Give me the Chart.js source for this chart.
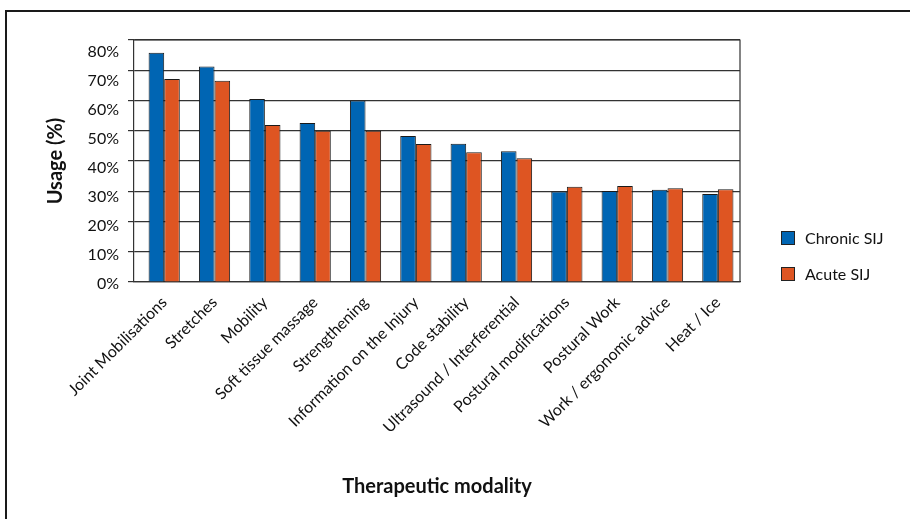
<!DOCTYPE html>
<html>
<head>
<meta charset="utf-8">
<script src="https://cdn.jsdelivr.net/npm/chart.js@4.4.1/dist/chart.umd.min.js"></script>
<style>
  html, body { margin: 0; padding: 0; background: #fff; }
  #wrap { position: relative; width: 910px; height: 519px; overflow: hidden; }
  #frame { position: absolute; left: 5px; top: 10px; width: 940px; height: 560px; border: 2px solid #1a1a1a; box-sizing: border-box; pointer-events: none; }
  canvas { position: absolute; left: 0; top: 0; }
</style>
</head>
<body>
<div id="wrap">
  <canvas id="c" width="910" height="519"></canvas>
  <div id="frame"></div>
</div>
<script>
const categories = [
  "Joint Mobilisations", "Stretches", "Mobility", "Soft tissue massage",
  "Strengthening", "Information on the Injury", "Code stability",
  "Ultrasound / Interferential", "Postural modifications", "Postural Work",
  "Work / ergonomic advice", "Heat / Ice"
];
const chronicSIJ = [75.8, 71.2, 60.5, 52.6, 60.0, 48.3, 45.7, 43.2, 29.9, 30.1, 30.5, 29.1];
const acuteSIJ   = [67.1, 66.5, 51.9, 50.0, 50.0, 45.6, 42.9, 40.9, 31.5, 31.7, 31.0, 30.7];
const seriesNames = ["Chronic SIJ", "Acute SIJ"];
const yTickValues = [0, 10, 20, 30, 40, 50, 60, 70, 80];
const yTickLabels = ["0%", "10%", "20%", "30%", "40%", "50%", "60%", "70%", "80%"];

const FONT = "Lato, 'Open Sans', sans-serif";

const toPoints = arr => arr.map((v, i) => ({ x: i, y: v }));

const frameAndLegend = {
  id: 'frameAndLegend',
  afterDatasetsDraw(chart) {
    const {ctx, chartArea} = chart;
    ctx.save();
    ctx.strokeStyle = '#333';
    ctx.lineWidth = 1.2;
    ctx.beginPath();
    ctx.moveTo(chartArea.left, chartArea.top);
    ctx.lineTo(chartArea.right, chartArea.top);
    ctx.lineTo(chartArea.right, chartArea.bottom);
    ctx.stroke();
    ctx.restore();
  },
  afterDraw(chart) {
    const {ctx} = chart;
    ctx.save();
    // y tick labels (in the reference they sit slightly lower than their gridlines)
    const yScale = chart.scales.y;
    ctx.fillStyle = '#111';
    ctx.font = "16px " + FONT;
    ctx.textAlign = 'right';
    ctx.textBaseline = 'middle';
    yTickValues.forEach((v, i) => {
      ctx.fillText(yTickLabels[i], yScale.right - 15, yScale.getPixelForValue(0.96 * v - 0.63));
    });
    // legend
    const x0 = 781, ys = [231, 267], sz = 14;
    chart.data.datasets.forEach((ds, i) => {
      ctx.fillStyle = ds.backgroundColor;
      ctx.fillRect(x0, ys[i], sz, sz);
      ctx.strokeStyle = '#222';
      ctx.lineWidth = 1;
      ctx.strokeRect(x0 + 0.5, ys[i] + 0.5, sz - 1, sz - 1);
      ctx.fillStyle = '#111';
      ctx.font = "16px " + FONT;
      ctx.textBaseline = 'middle';
      ctx.textAlign = 'left';
      ctx.fillText(ds.label, 805, ys[i] + sz / 2 + 1);
    });
    ctx.restore();
  }
};

new Chart(document.getElementById('c'), {
  type: 'bar',
  data: {
    datasets: [
      { label: seriesNames[0], data: toPoints(chronicSIJ), backgroundColor: '#0065B3', borderColor: '#1a1a1a', borderWidth: 1 },
      { label: seriesNames[1], data: toPoints(acuteSIJ), backgroundColor: '#DE5522', borderColor: '#1a1a1a', borderWidth: 1 }
    ]
  },
  options: {
    responsive: false,
    animation: false,
    devicePixelRatio: 1,
    layout: { padding: { left: 0, top: 40, right: 170, bottom: 0 } },
    plugins: { legend: { display: false }, tooltip: { enabled: false } },
    datasets: { bar: { barPercentage: 1.0, categoryPercentage: 0.62 } },
    scales: {
      x: {
        type: 'linear',
        min: -0.6, max: 11.44,
        offset: false,
        afterFit(scale) { scale.height = 237; },
        afterBuildTicks(scale) { scale.ticks = categories.map((c, i) => ({ value: i })); },
        grid: { display: false },
        border: { display: true, color: '#333', width: 1.2 },
        ticks: {
          autoSkip: false, minRotation: 45, maxRotation: 45,
          color: '#111', font: { family: FONT, size: 16 }, padding: 3,
          callback: v => categories[v] ?? ''
        },
        title: {
          display: true, text: 'Therapeutic modality', color: '#111',
          font: { family: FONT, size: 20, weight: 'bold' },
          padding: { top: 0, bottom: 20 }
        }
      },
      y: {
        min: 0, max: 80,
        afterFit(scale) { scale.width = 134; },
        afterBuildTicks(scale) { scale.ticks = yTickValues.map(v => ({ value: v })); },
        grid: { color: '#333', lineWidth: 1.2, tickLength: 6, drawTicks: true, tickColor: '#333' },
        border: { display: true, color: '#333', width: 1.2 },
        ticks: { display: false },
        title: {
          display: true, text: 'Usage (%)', color: '#111',
          font: { family: FONT, size: 20, weight: 'bold' },
          padding: { top: 44, bottom: 0 }
        }
      }
    }
  },
  plugins: [frameAndLegend]
});
</script>
</body>
</html>
